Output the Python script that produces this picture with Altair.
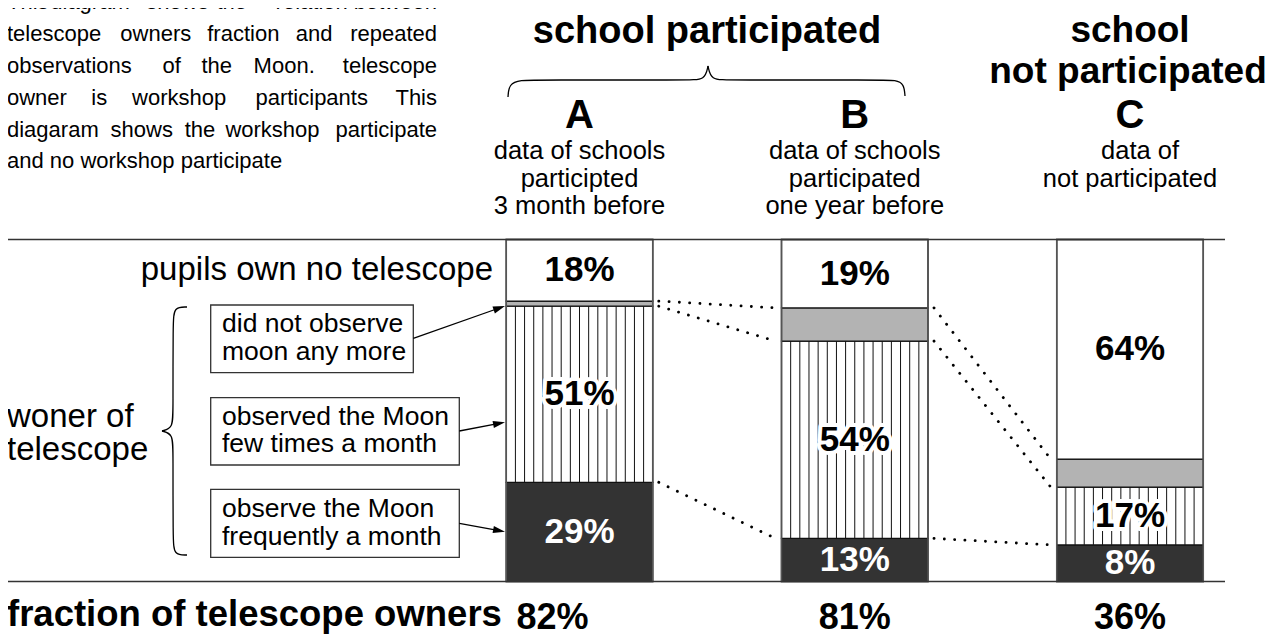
import altair as alt
import numpy as np
import pandas as pd

FONT = "Liberation Sans"

# ---------------- data ----------------
groups = ["A", "B", "C"]
# share of pupils, bottom to top of each bar (percent of bar height)
frequent = [29.0, 12.6, 10.7]   # observe the Moon frequently a month (dark)
few = [51.5, 57.7, 16.9]        # observed the Moon few times a month (striped)
stopped = [1.5, 9.7, 8.2]       # did not observe moon any more (grey)
no_scope = [18.0, 20.0, 64.2]   # pupils own no telescope (white)

lbl_freq = ["29%", "13%", "8%"]
lbl_few = ["51%", "54%", "17%"]
lbl_no = ["18%", "19%", "64%"]
owner_pct = ["82%", "81%", "36%"]

sub_lines = [
    ["data of schools", "participted", "3 month before"],
    ["data of schools", "participated", "one year before"],
    ["data of", "not participated"],
]

paragraph = [
    ["This", "diagram", "shows", "the", "relation", "between"],
    ["telescope", "owners", "fraction", "and", "repeated"],
    ["observations", "of", "the", "Moon.", "telescope"],
    ["owner", "is", "workshop", "participants", "This"],
    ["diagaram", "shows", "the", "workshop", "participate"],
    ["and no workshop participate"],
]

box_texts = [
    ["did not observe", "moon any more"],
    ["observed the Moon", "few times a month"],
    ["observe the Moon", "frequently a month"],
]

# ---------------- layout (page pixels) ----------------
OFF = 8.0
def px(v):
    return v - OFF

XS = alt.Scale(domain=[0, 2], range=[px(579.5), px(1130.0)])
YS = alt.Scale(domain=[0, 100], range=[px(581.5), px(239.5)])
SLOT = (1130.0 - 579.5) / 2.0
HW = 73.25 / SLOT           # bar half width in slot units
INS = 6.0 / SLOT            # inset of connector dots
N_STRIPES = 16

# ---------------- bar segments ----------------
seg_rows = []
specs = [
    ("freq", frequent, "#333333", lbl_freq, "white"),
    ("few", few, "#ffffff", lbl_few, "black"),
    ("stop", stopped, "#b3b3b3", None, "black"),
    ("none", no_scope, "#ffffff", lbl_no, "black"),
]
for i, g in enumerate(groups):
    base = 0.0
    for cat, vals, fill, lbls, tcol in specs:
        v = vals[i]
        seg_rows.append(dict(g=g, pos=i, x0=i - HW, x1=i + HW, y0=base, y1=base + v,
                             ym=base + v / 2, fill=fill, cat=cat,
                             label=(lbls[i] if lbls else ""), tcol=tcol))
        base += v
seg = pd.DataFrame(seg_rows)

stripe_rows = []
for i in range(len(groups)):
    for k in range(1, N_STRIPES):
        stripe_rows.append(dict(sx=i - HW + k * 2 * HW / N_STRIPES,
                                sy0=frequent[i], sy1=frequent[i] + few[i]))
stripes = pd.DataFrame(stripe_rows)

outline = pd.DataFrame(dict(x0=[i - HW for i in range(3)], x1=[i + HW for i in range(3)],
                            y0=[0] * 3, y1=[100] * 3))

bounds = [
    [frequent[i] + few[i] + stopped[i] for i in range(3)],
    [frequent[i] + few[i] for i in range(3)],
    [frequent[i] for i in range(3)],
]
dot_rows = []
for b in bounds:
    for i in range(2):
        dot_rows.append(dict(xa=i + HW + INS, xb=i + 1 - HW - INS, ya=b[i], yb=b[i + 1]))
dots = pd.DataFrame(dot_rows)

base_lines = pd.DataFrame(dict(yv=[0, 100]))

# ---------------- layers ----------------
seg_layer = alt.Chart(seg).mark_rect(stroke="#111111", strokeWidth=1.3).encode(
    x=alt.X("x0:Q", scale=XS, axis=None), x2="x1:Q",
    y=alt.Y("y0:Q", scale=YS, axis=None), y2="y1:Q",
    fill=alt.Fill("fill:N", scale=None))

stripe_layer = alt.Chart(stripes).mark_rule(color="#111111", strokeWidth=1).encode(
    x=alt.X("sx:Q", scale=XS, axis=None),
    y=alt.Y("sy0:Q", scale=YS, axis=None), y2="sy1:Q")

outline_layer = alt.Chart(outline).mark_rect(fillOpacity=0, stroke="#555555", strokeWidth=1.6).encode(
    x=alt.X("x0:Q", scale=XS, axis=None), x2="x1:Q",
    y=alt.Y("y0:Q", scale=YS, axis=None), y2="y1:Q")

base_layer = alt.Chart(base_lines).mark_rule(color="#333333", strokeWidth=1.6).encode(
    y=alt.Y("yv:Q", scale=YS, axis=None), x=alt.value(px(7)), x2=alt.value(px(1225)))

dot_layer = alt.Chart(dots).mark_rule(color="black", strokeWidth=2.8, strokeCap="round",
                                      strokeDash=[0.1, 10.2]).encode(
    x=alt.X("xa:Q", scale=XS, axis=None), x2="xb:Q",
    y=alt.Y("ya:Q", scale=YS, axis=None), y2="yb:Q")

lab = seg[seg["label"] != ""]
halo_layer = alt.Chart(lab[lab["cat"] == "few"]).mark_text(
    font=FONT, fontSize=35, fontWeight="bold", baseline="middle", align="center",
    stroke="white", strokeWidth=8, strokeJoin="round", fill="white").encode(
    x=alt.X("pos:Q", scale=XS, axis=None), y=alt.Y("ym:Q", scale=YS, axis=None), text="label:N")
lab_layer = alt.Chart(lab).mark_text(
    font=FONT, fontSize=35, fontWeight="bold", baseline="middle", align="center").encode(
    x=alt.X("pos:Q", scale=XS, axis=None), y=alt.Y("ym:Q", scale=YS, axis=None), text="label:N",
    color=alt.Color("tcol:N", scale=None))

# ---------------- annotation helpers ----------------
def ptext(rows, size, weight="normal", align="left", color="black"):
    df = pd.DataFrame([dict(tx=px(x), ty=px(y), t=t) for (t, x, y) in rows])
    return alt.Chart(df).mark_text(font=FONT, fontSize=size, fontWeight=weight, align=align,
                                   baseline="alphabetic", color=color).encode(
        x=alt.X("tx:Q", scale=None, axis=None), y=alt.Y("ty:Q", scale=None, axis=None), text="t:N")

def btext(rows, size, weight="normal"):
    # x given in slot units through the bar scale, y in page pixels
    df = pd.DataFrame([dict(tx=x, ty=px(y), t=t) for (t, x, y) in rows])
    return alt.Chart(df).mark_text(font=FONT, fontSize=size, fontWeight=weight, align="center",
                                   baseline="alphabetic", color="black").encode(
        x=alt.X("tx:Q", scale=XS, axis=None), y=alt.Y("ty:Q", scale=None, axis=None), text="t:N")

# paragraph (justified by hand: first word left, last word right, middle centred)
para_base = [8.5, 40.7, 72.7, 105.0, 136.7, 168.0]
para_mid_x = [
    [90.0, 177.5, 231.7, 311.7],
    [155.8, 243.3, 314.2],
    [171.7, 216.7, 284.2],
    [99.2, 179.2, 311.7],
    [141.7, 200.0, 272.5],
    [],
]
p_left, p_right, p_mid = [], [], []
for words, yb, mids in zip(paragraph, para_base, para_mid_x):
    p_left.append((words[0], 7, yb))
    if len(words) > 1:
        p_right.append((words[-1], 437, yb))
        for w, xm in zip(words[1:-1], mids):
            p_mid.append((w, xm, yb))

head_rows = [(g, i, 128) for i, g in enumerate(groups)]
sub_y = [159, 187, 214]
sub_dx = [[0, 0, 0], [0, 0, 0], [10, 0]]
sub_rows = []
for i, lines in enumerate(sub_lines):
    for j, t in enumerate(lines):
        sub_rows.append((t, i + sub_dx[i][j] / SLOT, sub_y[j]))
owner_dx = [-27.0, 0, 0]
owner_rows = [(t, i + owner_dx[i] / SLOT, 629) for i, t in enumerate(owner_pct)]

box_geo = [(210.7, 413.3, 305.0, 372.7), (210.7, 459.3, 397.7, 465.0), (210.7, 459.3, 489.3, 557.3)]
box_base = [(332, 360), (425, 452), (517, 545)]
boxes = pd.DataFrame([dict(bx0=px(a), bx1=px(b), by0=px(c), by1=px(d)) for a, b, c, d in box_geo])
box_layer = alt.Chart(boxes).mark_rect(fill="white", stroke="#333333", strokeWidth=1.3).encode(
    x=alt.X("bx0:Q", scale=None, axis=None), x2="bx1:Q",
    y=alt.Y("by0:Q", scale=None, axis=None), y2="by1:Q")
box_rows = []
for lines, ys in zip(box_texts, box_base):
    for t, yb in zip(lines, ys):
        box_rows.append((t, 222, yb))

# arrows from the boxes to bar A
arrows = [((413.3, 338.3), (505.0, 306.0)), ((459.3, 431.0), (505.0, 422.3)), ((459.3, 523.3), (505.0, 531.7))]
arr_rows, head_rows_a = [], []
for (x0, y0), (x1, y1) in arrows:
    ang = np.degrees(np.arctan2(y1 - y0, x1 - x0))
    u = np.array([x1 - x0, y1 - y0]) / np.hypot(x1 - x0, y1 - y0)
    arr_rows.append(dict(ax0=px(x0), ay0=px(y0), ax1=px(x1 - 6 * u[0]), ay1=px(y1 - 6 * u[1])))
    head_rows_a.append(dict(hx=px(x1), hy=px(y1), ang=float(ang % 360)))
arr_layer = alt.Chart(pd.DataFrame(arr_rows)).mark_rule(color="black", strokeWidth=1.3).encode(
    x=alt.X("ax0:Q", scale=None, axis=None), x2="ax1:Q",
    y=alt.Y("ay0:Q", scale=None, axis=None), y2="ay1:Q")
head_layer = alt.Chart(pd.DataFrame(head_rows_a)).mark_point(
    shape="M0,0L-1,-0.3L-1,0.3Z", filled=True, color="black", size=576, opacity=1, strokeWidth=0).encode(
    x=alt.X("hx:Q", scale=None, axis=None), y=alt.Y("hy:Q", scale=None, axis=None),
    angle=alt.Angle("ang:Q", scale=None))

# braces
brace_pts = {
    "top_l": [(508, 97), (509, 84), (520, 80), (540, 80), (688, 80), (705, 80), (708, 66)],
    "top_r": [(708, 66), (711, 80), (728, 80), (880, 80), (896, 80), (904, 84), (905, 96)],
    "left_t": [(187, 307), (174, 307), (173, 322), (173, 410), (173, 428), (162, 431)],
    "left_b": [(162, 431), (173, 434), (173, 452), (173, 540), (174, 555), (187, 555)],
}
brace_rows = []
for name, pts in brace_pts.items():
    for k, (x, y) in enumerate(pts):
        brace_rows.append(dict(piece=name, i=k, bx=px(x), by=px(y)))
brace_layer = alt.Chart(pd.DataFrame(brace_rows)).mark_line(
    interpolate="basis", color="black", strokeWidth=1.3).encode(
    x=alt.X("bx:Q", scale=None, axis=None), y=alt.Y("by:Q", scale=None, axis=None),
    order="i:Q", detail="piece:N")

layers = [
    seg_layer, stripe_layer, outline_layer, base_layer, dot_layer,
    halo_layer, lab_layer,
    box_layer, arr_layer, head_layer, brace_layer,
    ptext(p_left, 22, align="left"),
    ptext(p_right, 22, align="right"),
    ptext(p_mid, 22, align="center"),
    ptext([("school participated", 707, 43)], 38, weight="bold", align="center"),
    ptext([("school", 1130, 42), ("not participated", 1128, 83)], 37, weight="bold", align="center"),
    btext(head_rows, 40, weight="bold"),
    btext(sub_rows, 25.5),
    ptext([("pupils own no telescope", 493, 280)], 33, align="right"),
    ptext([("woner of", 7, 427), ("telescope", 7, 460)], 33, align="left"),
    ptext(box_rows, 26.5, align="left"),
    ptext([("fraction of telescope owners", 7, 626)], 36.5, weight="bold", align="left"),
    btext(owner_rows, 36, weight="bold"),
]

chart = alt.layer(*layers).resolve_scale(x="independent", y="independent").properties(
    width=1260, height=628, padding=0, autosize=alt.AutoSizeParams(type="none"),
    background="white").configure_view(stroke=None)

chart.save("out.html", embed_options={"renderer": "svg", "actions": False})
